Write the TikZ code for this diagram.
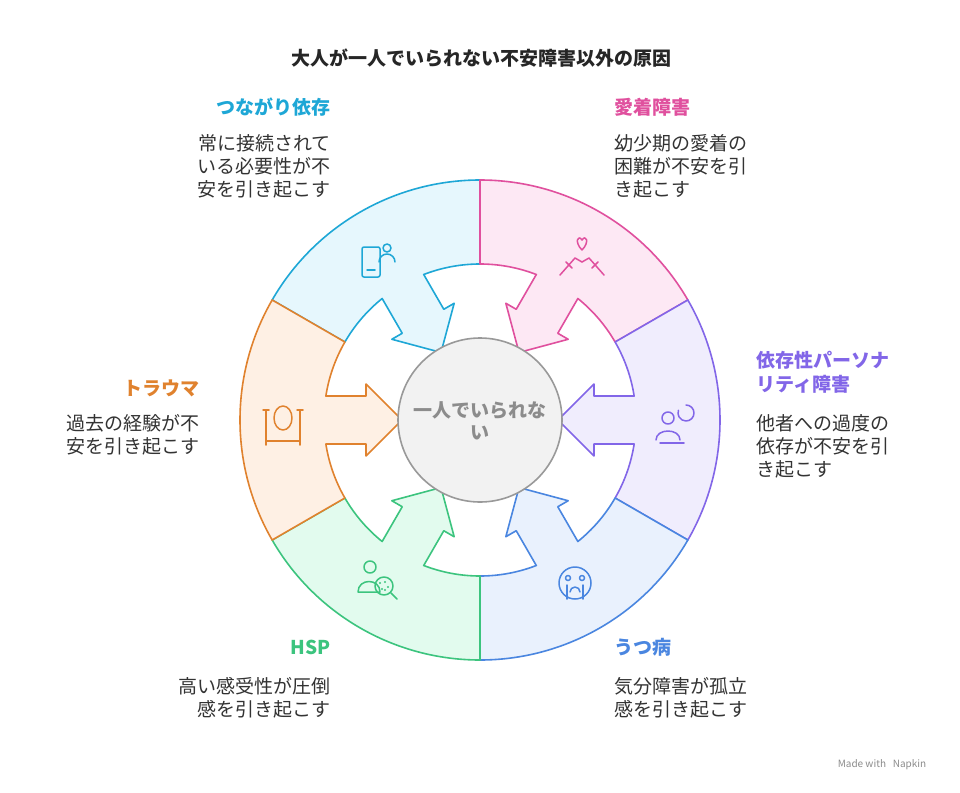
\documentclass[tikz,border=0pt]{standalone}
\usepackage{fontspec}
\setmainfont{Noto Sans CJK JP}
\begin{document}
\begin{tikzpicture}[x=1pt,y=1pt,
  lab/.style={font=\bfseries\fontsize{19}{24}\selectfont},
  desc/.style={font=\fontsize{19}{23}\selectfont,text=black!80,align=left},
  descr/.style={font=\fontsize{19}{23}\selectfont,text=black!80,align=right},
  ico/.style={line width=1.5pt,line cap=round,line join=round}]
\definecolor{cC}{HTML}{1EA7D6}\definecolor{fC}{HTML}{E6F7FD}
\definecolor{cP}{HTML}{E0509E}\definecolor{fP}{HTML}{FDE8F4}
\definecolor{cV}{HTML}{8266E8}\definecolor{fV}{HTML}{F0EDFD}
\definecolor{cB}{HTML}{4A86E0}\definecolor{fB}{HTML}{E9F1FD}
\definecolor{cG}{HTML}{3CC47E}\definecolor{fG}{HTML}{E2FBEE}
\definecolor{cO}{HTML}{E0822E}\definecolor{fO}{HTML}{FEF0E4}
\useasboundingbox[fill=white] (0,0) rectangle (960,-792);
\coordinate (O) at (480,-420);
\def\sector#1#2#3{%
\begin{scope}[shift={(O)},rotate=#1]
\draw[#2,fill=#3,line width=1.6pt,line join=round]
 (150:240) arc[start angle=150,end angle=210,radius=240]
 -- (210:156) arc[start angle=210,end angle=188.85,radius=156]
 -- (-114,-24) -- (-114,-36) -- (-78,0) -- (-114,36) -- (-114,24) -- (171.15:156)
 arc[start angle=171.15,end angle=150,radius=156] -- cycle;
\end{scope}}
\sector{-60}{cC}{fC}
\sector{-120}{cP}{fP}
\sector{180}{cV}{fV}
\sector{120}{cB}{fB}
\sector{60}{cG}{fG}
\sector{0}{cO}{fO}
\node[circle,draw=black!40,fill=black!5,line width=1.6pt,minimum size=164pt] (c) at (O) {};
\node[font=\bfseries\fontsize{19}{22}\selectfont,text=black!45,align=center] (ct) at (480,-421) {一人でいられな\\い};
\node[font=\bfseries\fontsize{19}{22}\selectfont,text=black!85] (title) at (481,-58) {大人が一人でいられない不安障害以外の原因};
% icons
\begin{scope}[ico,cO]
\draw (283,-418) ellipse (9 and 12);
\draw (266,-441) -- (300,-441); \draw (266,-410)--(266,-445); \draw (300,-410)--(300,-445);
\draw (263,-410)--(269,-410); \draw (297,-410)--(303,-410);
\end{scope}
\begin{scope}[ico,cC]
\draw[rounded corners=2] (362,-247) rectangle (380,-277); \draw (367,-270)--(375,-270);
\draw (387,-248) circle (4); \draw (379,-262) arc[start angle=180,end angle=0,radius=8];
\end{scope}
\begin{scope}[ico,cP]
\draw (582,-250) .. controls (574,-242) and (578,-234) .. (582,-240) .. controls (586,-234) and (590,-242) .. (582,-250);
\draw (560,-275)--(575,-258)--(582,-262); \draw (604,-275)--(589,-258)--(582,-262);
\draw (566,-262)--(572,-268); \draw (598,-262)--(592,-268);
\end{scope}
\begin{scope}[ico,cV]
\draw (668,-418) circle (6);
\draw (656,-440) .. controls (656,-428) and (680,-428) .. (680,-440);
\draw (686,-405) arc[start angle=90,end angle=-200,radius=8];
\draw (660,-443)--(684,-443);
\end{scope}
\begin{scope}[ico,cB]
\draw (575,-583) circle (16);
\draw (568,-578) circle (2.5); \draw (582,-578) circle (2.5);
\draw (567,-599)--(567,-585); \draw (583,-599)--(583,-585);
\draw (570,-592) arc[start angle=180,end angle=0,radius=5];
\end{scope}
\begin{scope}[ico,cG]
\draw (370,-567) circle (6);
\draw (358,-592) .. controls (358,-578) and (380,-578) .. (380,-592) -- (358,-592);
\draw (384,-586) circle (9); \draw (391,-593)--(397,-599);
\foreach \p in {(380,-583),(385,-582),(388,-587),(382,-589),(385,-590)} \fill \p circle (1.2);
\end{scope}
% labels
\node[lab,text=cC,anchor=east] (l1) at (334,-107) {つながり依存};
\node[descr,anchor=north east] (d1) at (334,-131) {常に接続されて\\いる必要性が不\\安を引き起こす};
\node[lab,text=cP,anchor=west] (l2) at (611,-107) {愛着障害};
\node[desc,anchor=north west] (d2) at (611,-131) {幼少期の愛着の\\困難が不安を引\\き起こす};
\node[lab,text=cV,anchor=north west,align=left] (l3) at (753,-348) {依存性パーソナ\\リティ障害};
\node[desc,anchor=north west] (d3) at (753,-411) {他者への過度の\\依存が不安を引\\き起こす};
\node[lab,text=cO,anchor=east] (l4) at (203,-388) {トラウマ};
\node[descr,anchor=north east] (d4) at (203,-411) {過去の経験が不\\安を引き起こす};
\node[lab,text=cG,anchor=east] (l5) at (334,-647) {HSP};
\node[descr,anchor=north east] (d5) at (334,-674) {高い感受性が圧倒\\感を引き起こす};
\node[lab,text=cB,anchor=west] (l6) at (611,-647) {うつ病};
\node[desc,anchor=north west] (d6) at (611,-674) {気分障害が孤立\\感を引き起こす};
\node[font=\fontsize{10}{12}\selectfont,text=black!45] (mk) at (882,-765) {Made with \ \ Napkin};
\end{tikzpicture}
\end{document}
